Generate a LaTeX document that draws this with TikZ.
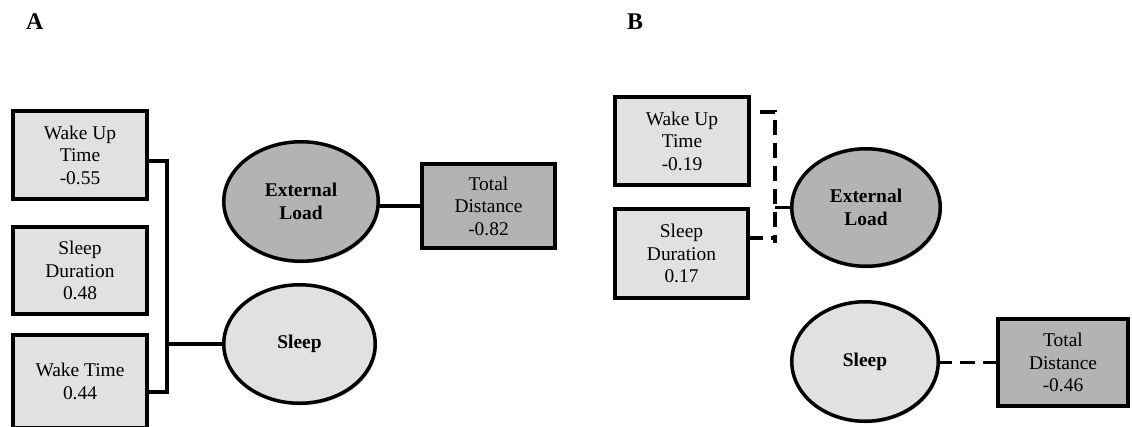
\documentclass[tikz,border=0pt]{standalone}
\usepackage{fontspec}
\setmainfont{Liberation Serif}
\usetikzlibrary{shapes.geometric,shadows}
\definecolor{boxlight}{RGB}{225,225,225}
\definecolor{boxdark}{RGB}{179,179,179}
\begin{document}
\begin{tikzpicture}[x=1bp,y=-1bp,
  every node/.style={inner sep=0pt, outer sep=0pt, align=center,
    font=\fontsize{19.5}{22.5}\selectfont},
  boxshadow/.style={drop shadow={shadow xshift=1.5bp, shadow yshift=-2bp,
    opacity=0.25, fill=black}},
  ind/.style={rectangle, draw=black, line width=4bp, fill=boxlight, boxshadow},
  inddark/.style={ind, fill=boxdark},
  latlight/.style={ellipse, draw=black, line width=3.5bp, fill=boxlight, boxshadow,
    font=\fontsize{19.5}{22.5}\selectfont\bfseries},
  latdark/.style={latlight, fill=boxdark},
  conn/.style={line width=3.5bp},
  dconn/.style={line width=3.5bp, dash pattern=on 15bp off 8bp},
  panel/.style={anchor=base west, font=\fontsize{24}{24}\selectfont\bfseries}
]
\useasboundingbox (0,0) rectangle (1132,426);

% panel labels
\node[panel] (labA) at (26,29) {A};
\node[panel] (labB) at (627,29) {B};

% ---- panel A ----
\node[ind, minimum width=134bp, minimum height=88bp] (wutA) at (80,155) {Wake Up\\Time\\-0.55};
\node[ind, minimum width=134bp, minimum height=87bp] (sdA) at (80,270.5) {Sleep\\Duration\\0.48};
\node[ind, minimum width=134bp, minimum height=93bp] (wtA) at (80,381.5) {Wake Time\\0.44};
\node[latdark, minimum width=154.5bp, minimum height=119.5bp] (extA) at (301,201.5) {External\\Load};
\node[latlight, minimum width=151.5bp, minimum height=118.5bp] (slA) at (299.5,344) {Sleep};
\node[inddark, minimum width=133bp, minimum height=84bp] (tdA) at (488.5,206) {Total\\Distance\\-0.82};

\coordinate (busA) at (167,344);
\draw[conn] ([yshift=-6bp]wutA.east) -| (busA) |- ([yshift=-10.5bp]wtA.east);
\draw[conn] (busA) -- (slA.west);
\draw[conn] (tdA.west) -- (tdA.west -| extA.east);

% ---- panel B ----
\node[ind, minimum width=134bp, minimum height=88bp] (wutB) at (682,141) {Wake Up\\Time\\-0.19};
\node[ind, minimum width=133bp, minimum height=89bp] (sdB) at (681.5,253.5) {Sleep\\Duration\\0.17};
\node[latdark, minimum width=148.5bp, minimum height=117.5bp] (extB) at (866,207.5) {External\\Load};
\node[latlight, minimum width=146.5bp, minimum height=119.5bp] (slB) at (865,361.5) {Sleep};
\node[inddark, minimum width=130bp, minimum height=87bp] (tdB) at (1063,362.5) {Total\\Distance\\-0.46};

\coordinate (busBend) at (775,243);
\coordinate (busBmid) at (775,207.5);
\coordinate (wutBstub) at ([xshift=11bp,yshift=29bp]wutB.east);
\coordinate (sdBstub) at ([yshift=15.5bp]sdB.east);
\draw[dconn] (wutBstub) -| (busBend);
\draw[dconn] (sdBstub) -- (sdBstub -| busBend);
\draw[dconn] (busBmid) -- (extB.west);
\draw[dconn] (tdB.west) -- (tdB.west -| slB.east);
\end{tikzpicture}
\end{document}
